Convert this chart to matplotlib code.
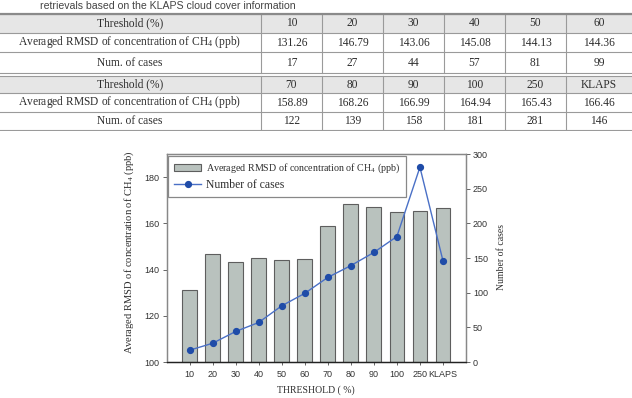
import numpy as np
import matplotlib
matplotlib.use("Agg")
import matplotlib.pyplot as plt
from matplotlib.patches import Rectangle

plt.rcParams['mathtext.fontset'] = 'custom'
plt.rcParams['mathtext.rm'] = 'Liberation Serif'

thresholds = ['10', '20', '30', '40', '50', '60', '70', '80', '90', '100', '250', 'KLAPS']
rmsd = [131.26, 146.79, 143.06, 145.08, 144.13, 144.36,
        158.89, 168.26, 166.99, 164.94, 165.43, 166.46]
cases = [17, 27, 44, 57, 81, 99, 122, 139, 158, 181, 281, 146]

row_names = ['Threshold (%)',
             r'Averaged RMSD of concentration of CH$\mathregular{_4}$ (ppb)',
             'Num. of cases']

W, H = 632, 398
fig = plt.figure(figsize=(W / 100, H / 100), dpi=100)

# ---------- table (pixel coordinates) ----------
tb = fig.add_axes([0, (H - 131) / H, 1, 131 / H])
tb.set_xlim(0, W)
tb.set_ylim(131, 0)
tb.axis('off')

serif = 'Liberation Serif'
tcol = '#2e2e2e'
lcol = '#9a9a9a'

tb.text(40, 8.6, 'retrievals based on the KLAPS cloud cover information',
        family='Liberation Sans', fontsize=7.6, color='#444444', va='baseline')

col_edges = [0, 261, 322, 383, 444, 505, 566, 632]
blocks = [[14, 33, 52, 73], [76, 93, 112, 130]]

for b, rows in enumerate(blocks):
    tb.add_patch(Rectangle((0, rows[0]), W, rows[1] - rows[0],
                           facecolor='#e6e6e6', edgecolor='none'))
    for y in rows:
        tb.plot([0, W], [y, y], color=lcol, lw=0.8)
    for x in col_edges[1:-1]:
        tb.plot([x, x], [rows[0], rows[-1]], color=lcol, lw=0.8)
    sl = slice(b * 6, b * 6 + 6)
    vals = [thresholds[sl],
            ['%.2f' % v for v in rmsd[sl]],
            [str(c) for c in cases[sl]]]
    for r in range(3):
        yc = (rows[r] + rows[r + 1]) / 2
        tb.text(130, yc, row_names[r], family=serif, fontsize=8.3,
                color=tcol, ha='center', va='center')
        for c in range(6):
            xc = (col_edges[c + 1] + col_edges[c + 2]) / 2
            tb.text(xc, yc, vals[r][c], family=serif, fontsize=8.3,
                    color=tcol, ha='center', va='center')

tb.plot([0, W], [13.5, 13.5], color='#8a8a8a', lw=1.6)

# ---------- chart ----------
left, right, top, bottom = 166.5, 466, 154, 362
ax = fig.add_axes([left / W, (H - bottom) / H, (right - left) / W, (bottom - top) / H])
ax2 = ax.twinx()

x = np.arange(len(thresholds))
bars = ax.bar(x, rmsd, width=0.64, color='#b9c2be', edgecolor='#5e5e5e',
              linewidth=0.8, label=r'Averaged RMSD of concentration of CH$\mathregular{_4}$ (ppb)')
line, = ax2.plot(x, cases, color='#4a70c6', lw=1.0, marker='o', ms=4.2,
                 mfc='#1f4ca8', mec='#1f4ca8', label='Number of cases')

ax.set_xlim(-1, len(thresholds))
ax.set_ylim(100, 190)
ax.set_yticks(np.arange(100, 181, 20))
ax2.set_ylim(0, 300)
ax2.set_yticks(np.arange(0, 301, 50))
ax.set_xticks(x)
ax.set_xticklabels(thresholds)

for a in (ax, ax2):
    a.tick_params(labelsize=6.5, labelcolor='#333333', color='#666666',
                  length=3, width=0.7, pad=2)
    for t in a.get_xticklabels() + a.get_yticklabels():
        t.set_family('Liberation Sans')
    for s in a.spines.values():
        s.set_color('#888888')
        s.set_linewidth(0.9)
    a.spines['bottom'].set_color('#222222')
ax.tick_params(axis='x', length=2, pad=4)

fig.text(129 / W, 1 - 252 / H,
         r'Averaged RMSD of concentration of CH$\mathregular{_4}$ (ppb)',
         family=serif, fontsize=7.6, color=tcol, rotation=90, ha='center', va='center')
fig.text(502 / W, 1 - 257 / H, 'Number of cases', family=serif, fontsize=7.0,
         color=tcol, rotation=90, ha='center', va='center')
fig.text(316 / W, 1 - 390 / H, 'THRESHOLD ( %)', family=serif, fontsize=7.0,
         color=tcol, ha='center', va='center')

leg = ax2.legend([bars, line], [bars.get_label(), line.get_label()],
                 loc='upper left', bbox_to_anchor=(0, 1), borderaxespad=0.15,
                 fancybox=False, edgecolor='#888888', framealpha=1,
                 prop={'family': serif, 'size': 7.2}, handlelength=2.7,
                 handletextpad=0.5, numpoints=1, labelspacing=0.35, borderpad=0.6)
leg.get_frame().set_linewidth(0.9)
leg.get_texts()[1].set_fontsize(8.4)
for t in leg.get_texts():
    t.set_color(tcol)

fig.savefig('out.png', dpi=100)
